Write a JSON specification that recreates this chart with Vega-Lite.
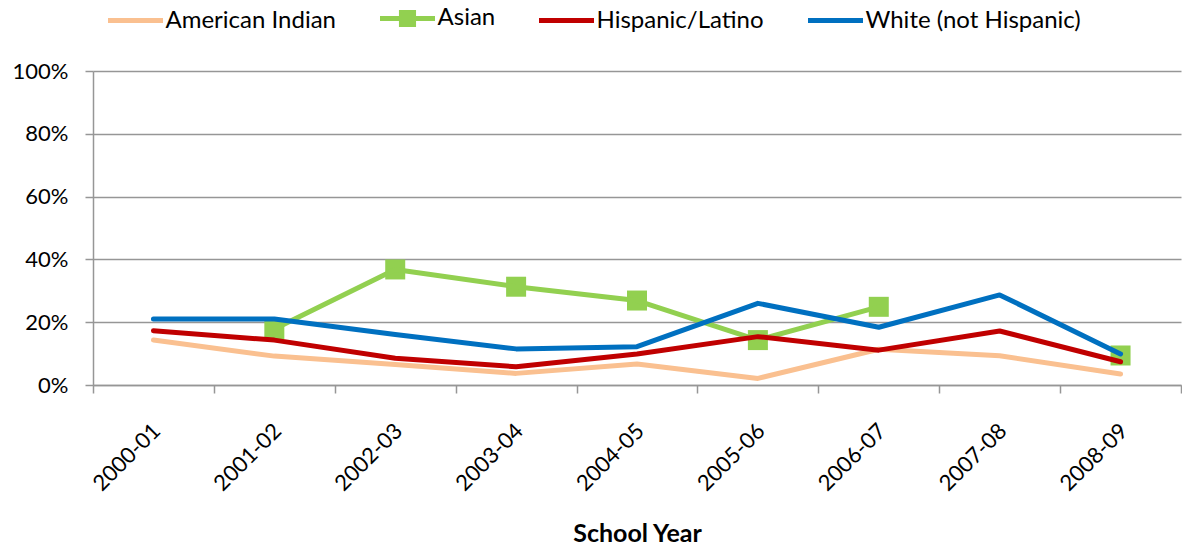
{
  "$schema": "https://vega.github.io/schema/vega-lite/v6.json",
  "width": 1088,
  "height": 314,
  "autosize": "none",
  "padding": {"left": 93, "top": 71, "right": 1, "bottom": 163},
  "background": "white",
  "config": {"view": {"stroke": null}, "font": "Lato"},
  "data": {
    "values": [
      {"group": "American Indian", "year": "2000-01", "rate": 0.143},
      {"group": "American Indian", "year": "2001-02", "rate": 0.092},
      {"group": "American Indian", "year": "2002-03", "rate": 0.065},
      {"group": "American Indian", "year": "2003-04", "rate": 0.037},
      {"group": "American Indian", "year": "2004-05", "rate": 0.067},
      {"group": "American Indian", "year": "2005-06", "rate": 0.021},
      {"group": "American Indian", "year": "2006-07", "rate": 0.114},
      {"group": "American Indian", "year": "2007-08", "rate": 0.093},
      {"group": "American Indian", "year": "2008-09", "rate": 0.035},
      {"group": "Asian", "year": "2000-01", "rate": null},
      {"group": "Asian", "year": "2001-02", "rate": 0.178},
      {"group": "Asian", "year": "2002-03", "rate": 0.368},
      {"group": "Asian", "year": "2003-04", "rate": 0.313},
      {"group": "Asian", "year": "2004-05", "rate": 0.269},
      {"group": "Asian", "year": "2005-06", "rate": 0.143},
      {"group": "Asian", "year": "2006-07", "rate": 0.249},
      {"group": "Asian", "year": "2007-08", "rate": null},
      {"group": "Asian", "year": "2008-09", "rate": 0.094},
      {"group": "Hispanic/Latino", "year": "2000-01", "rate": 0.173},
      {"group": "Hispanic/Latino", "year": "2001-02", "rate": 0.143},
      {"group": "Hispanic/Latino", "year": "2002-03", "rate": 0.085},
      {"group": "Hispanic/Latino", "year": "2003-04", "rate": 0.058},
      {"group": "Hispanic/Latino", "year": "2004-05", "rate": 0.099},
      {"group": "Hispanic/Latino", "year": "2005-06", "rate": 0.154},
      {"group": "Hispanic/Latino", "year": "2006-07", "rate": 0.111},
      {"group": "Hispanic/Latino", "year": "2007-08", "rate": 0.172},
      {"group": "Hispanic/Latino", "year": "2008-09", "rate": 0.074},
      {"group": "White (not Hispanic)", "year": "2000-01", "rate": 0.21},
      {"group": "White (not Hispanic)", "year": "2001-02", "rate": 0.21},
      {"group": "White (not Hispanic)", "year": "2002-03", "rate": 0.161},
      {"group": "White (not Hispanic)", "year": "2003-04", "rate": 0.115},
      {"group": "White (not Hispanic)", "year": "2004-05", "rate": 0.122},
      {"group": "White (not Hispanic)", "year": "2005-06", "rate": 0.26},
      {"group": "White (not Hispanic)", "year": "2006-07", "rate": 0.184},
      {"group": "White (not Hispanic)", "year": "2007-08", "rate": 0.287},
      {"group": "White (not Hispanic)", "year": "2008-09", "rate": 0.099}
    ]
  },
  "encoding": {
    "x": {
      "field": "year",
      "type": "ordinal",
      "sort": ["2000-01", "2001-02", "2002-03", "2003-04", "2004-05", "2005-06", "2006-07", "2007-08", "2008-09"],
      "scale": {"type": "band", "paddingInner": 0, "paddingOuter": 0, "domain": ["2000-01", "2001-02", "2002-03", "2003-04", "2004-05", "2005-06", "2006-07", "2007-08", "2008-09"]},
      "axis": {
        "title": "School Year",
        "titleFont": "Lato",
        "titleFontSize": 25,
        "titleFontWeight": "bold",
        "titleColor": "black",
        "titleBaseline": "middle",
        "titleAnchor": "middle",
        "titleX": 544,
        "titleY": 148,
        "labelAngle": -45,
        "labelAlign": "right",
        "labelBaseline": "middle",
        "labelFont": "Lato",
        "labelFontSize": 22,
        "labelColor": "black",
        "labelPadding": 34,
        "labelOffset": 3,
        "tickBand": "extent",
        "tickSize": 8,
        "tickColor": "#969696",
        "tickWidth": 1.5,
        "domainColor": "#969696",
        "domainWidth": 1.5,
        "grid": false
      }
    },
    "y": {
      "field": "rate",
      "type": "quantitative",
      "scale": {"domain": [0, 1], "nice": false},
      "axis": {
        "title": null,
        "values": [0, 0.2, 0.4, 0.6, 0.8, 1],
        "format": ".0%",
        "labelFont": "Lato",
        "labelFontSize": 22,
        "labelColor": "black",
        "labelPadding": 17,
        "tickSize": 8,
        "tickColor": "#969696",
        "tickWidth": 1.5,
        "domainColor": "#969696",
        "domainWidth": 1.5,
        "grid": true,
        "gridColor": "#969696",
        "gridWidth": 1.5
      }
    }
  },
  "layer": [
    {
      "transform": [{"filter": "datum.group == 'Asian' && isValid(datum.rate)"}],
      "mark": {"type": "point", "shape": "square", "filled": true, "size": 400, "color": "#92D050", "opacity": 1}
    },
    {
      "mark": {"type": "line", "strokeWidth": 5, "strokeCap": "round", "strokeJoin": "round", "invalid": "break-paths-show-domains"},
      "encoding": {
        "color": {
          "field": "group",
          "type": "nominal",
          "scale": {
            "domain": ["American Indian", "Asian", "Hispanic/Latino", "White (not Hispanic)"],
            "range": ["#FAC090", "#92D050", "#C00000", "#0070C0"]
          },
          "legend": {
            "orient": "none",
            "legendX": 12.5,
            "legendY": -83,
            "direction": "horizontal",
            "title": null,
            "padding": 0,
            "symbolSize": 3025,
            "symbolStrokeWidth": 5,
            "labelFont": "Lato",
            "labelFontSize": 24,
            "labelColor": "black",
            "labelOffset": 0,
            "labelLimit": 400,
            "columnPadding": 33,
            "encode": {
              "symbols": {
                "update": {
                  "shape": {"signal": "datum.value === 'Asian' ? 'M-1,0H1M-0.22,-0.22H0.22V0.22H-0.22Z' : 'M-1,0H1'"},
                  "fill": {"signal": "scale('color', datum.value)"},
                  "fillOpacity": {"value": 1},
                  "strokeCap": {"value": "butt"}
                }
              }
            }
          }
        }
      }
    }
  ]
}
